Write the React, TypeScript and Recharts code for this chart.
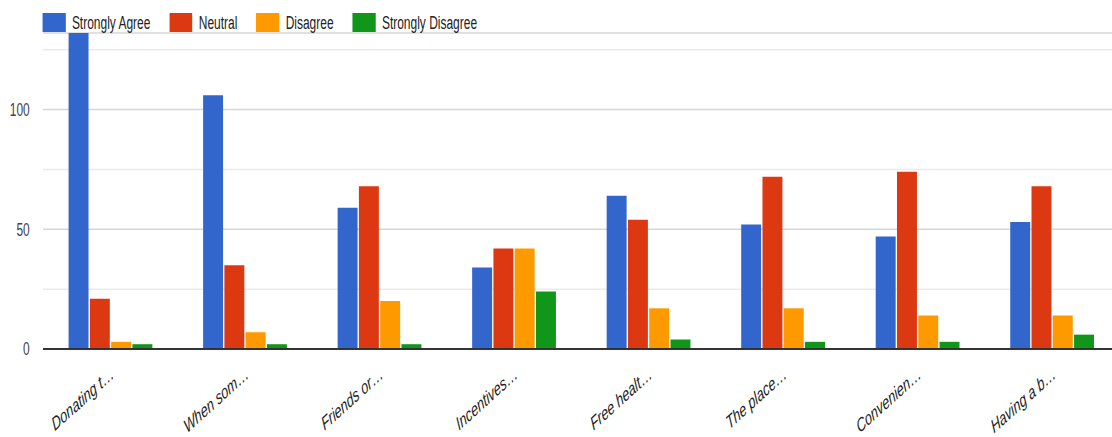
import { BarChart, Bar, XAxis, YAxis, CartesianGrid, ReferenceLine } from 'recharts';

// survey statements (truncated the way the form summary shows them)
const categories = [
  'Donating t…',
  'When som…',
  'Friends or…',
  'Incentives…',
  'Free healt…',
  'The place…',
  'Convenien…',
  'Having a b…',
];

const stronglyAgree = [132, 106, 59, 34, 64, 52, 47, 53];
const neutral = [21, 35, 68, 42, 54, 72, 74, 68];
const disagree = [3, 7, 20, 42, 17, 17, 14, 14];
const stronglyDisagree = [2, 2, 2, 24, 4, 3, 3, 6];

const seriesKeys = ['sa', 'n', 'd', 'sd'];
const seriesNames = ['Strongly Agree', 'Neutral', 'Disagree', 'Strongly Disagree'];
const seriesColors = ['#3366cc', '#dc3912', '#ff9900', '#109618'];

const yTicks = [0, 50, 100];
const minorTicks = [25, 75, 125];
const yMax = 132;

// the whole chart is drawn wide and squeezed horizontally
const SX = 0.665;
const W = Math.round(1119 / SX);
const H = 437;
const FONT = 'Arial, "Liberation Sans", sans-serif';

const data = categories.map((name, i) => ({
  name,
  sa: stronglyAgree[i],
  n: neutral[i],
  d: disagree[i],
  sd: stronglyDisagree[i],
}));

const XTick = ({ x, y, payload }: any) => (
  <g transform={`translate(${x + 7},${y + 28})`}>
    <text
      textAnchor="end"
      transform="rotate(-31)"
      fontSize={19}
      fontStyle="italic"
      fontFamily={FONT}
      fill="#222"
    >
      {payload.value}
    </text>
  </g>
);

const YTick = ({ x, y, payload }: any) => (
  <text x={x} y={y} dy="0.35em" textAnchor="end" fontSize={18} fontFamily={FONT} fill="#444">
    {payload.value}
  </text>
);

const LegendRow = () => (
  <div
    style={{
      position: 'absolute',
      top: 13,
      left: 64,
      height: 19,
      display: 'flex',
      alignItems: 'center',
      fontFamily: FONT,
      fontSize: 18,
      color: '#222',
      whiteSpace: 'nowrap',
    }}
  >
    {seriesNames.map((name, i) => (
      <div key={name} style={{ display: 'flex', alignItems: 'center', marginRight: 28.6 }}>
        <div style={{ width: 34.6, height: 19, background: seriesColors[i], marginRight: 9.5 }} />
        <span style={{ lineHeight: '19px', position: 'relative', top: 1 }}>{name}</span>
      </div>
    ))}
  </div>
);

export default function App() {
  return (
    <div
      style={{
        position: 'fixed',
        left: 0,
        top: 0,
        width: 1112,
        height: 437,
        overflow: 'hidden',
        background: '#fff',
      }}
    >
      <div
        style={{
          position: 'relative',
          width: W,
          height: H,
          transform: `scaleX(${SX})`,
          transformOrigin: '0 0',
        }}
      >
        <BarChart
          width={W}
          height={H}
          data={data}
          margin={{ top: 33, right: 0, bottom: 0, left: 0 }}
          barCategoryGap="19%"
          barGap={2}
        >
          <CartesianGrid
            vertical={false}
            horizontalValues={minorTicks}
            stroke="#ebebeb"
            strokeWidth={1.5}
          />
          <CartesianGrid vertical={false} stroke="#d6d6d6" strokeWidth={1.5} />
          <XAxis
            dataKey="name"
            height={88}
            tickLine={false}
            axisLine={false}
            tickSize={0}
            tickMargin={0}
            interval={0}
            tick={<XTick />}
          />
          <YAxis
            width={64.7}
            domain={[0, yMax]}
            ticks={yTicks}
            tickLine={false}
            axisLine={false}
            tickSize={0}
            tickMargin={20}
            tick={<YTick />}
          />
          {seriesKeys.map((k, i) => (
            <Bar
              key={k}
              dataKey={k}
              name={seriesNames[i]}
              fill={seriesColors[i]}
              isAnimationActive={false}
            />
          ))}
          <ReferenceLine y={0} stroke="#333" strokeWidth={2} />
        </BarChart>
        <LegendRow />
      </div>
    </div>
  );
}
